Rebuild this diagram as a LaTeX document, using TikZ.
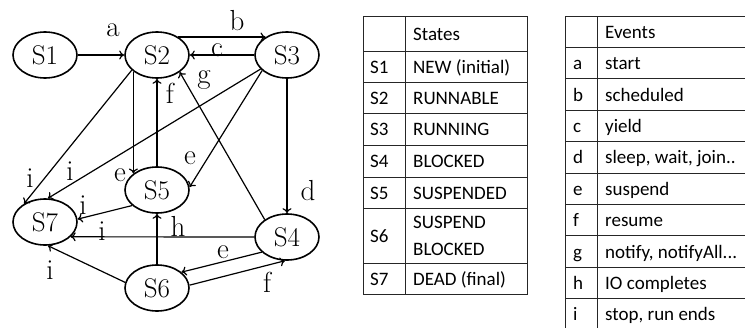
\documentclass[tikz,border=0pt]{standalone}
\usepackage{fontspec}
\newfontfamily\tabfont{Carlito}
\usetikzlibrary{arrows.meta,shapes.geometric}
\tikzset{
  state/.style={draw,line width=1.6pt,ellipse,minimum width=64pt,minimum height=46pt,inner sep=0pt,font=\fontsize{27}{29}\selectfont},
  lbl/.style={font=\fontsize{29}{31}\selectfont,inner sep=0pt},
  trans/.style={-{To[length=5pt,width=9pt]},line width=1.2pt},
  tabline/.style={line width=0.9pt,black!85},
  cell/.style={font=\tabfont\fontsize{19}{23}\selectfont,anchor=base west,inner sep=0pt},
}

\begin{document}
\begin{tikzpicture}[x=1pt,y=-1pt]
\useasboundingbox (0,0) rectangle (745,327);
\node[state] (s1) at (45,55) {S1};
\node[state] (s2) at (157,55) {S2};
\node[state] (s3) at (287,55) {S3};
\node[state] (s5) at (157,190) {S5};
\node[state] (s7) at (45,222) {S7};
\node[state] (s4) at (287,237) {S4};
\node[state] (s6) at (157,288) {S6};

\draw[trans] (s1) -- (s2);
\draw[trans] (s2.40) -- (s3.140);
\draw[trans] (s3) -- (s2);
\draw[trans] (s2.-145) -- (s5.145);
\draw[trans] (s5) -- (s2);
\draw[trans] (s3) -- (s4);
\draw[trans] (s4.142) -- (s2.-37);
\draw[trans] (s3.-148) -- (s5.5);
\draw[trans] (s2.-149) -- (s7.139);
\draw[trans] (s3.-152) -- (s7.83);
\draw[trans] (s5.-148) -- (s7.5);
\draw[trans] (s4) -- (s7.-30);
\draw[trans] (s6.170) -- (s7.-83);
\draw[trans] (s6) -- (s5);
\draw[trans] (s4.-149) -- (s6.33);
\draw[trans] (s6.5) -- (s4.-95);

\node[lbl] (la) at (113,30) {a};
\node[lbl] (lb) at (237,21) {b};
\node[lbl] (lc) at (217,50) {c};
\node[lbl] (lf1) at (170,93) {f};
\node[lbl] (lg) at (204,80) {g};
\node[lbl] (le1) at (120,175) {e};
\node[lbl] (le2) at (190,158) {e};
\node[lbl] (ld) at (308,191) {d};
\node[lbl] (li1) at (30,178) {i};
\node[lbl] (li2) at (70,171) {i};
\node[lbl] (li3) at (83,205) {i};
\node[lbl] (li4) at (102,231) {i};
\node[lbl] (li5) at (50,270) {i};
\node[lbl] (lh) at (178,226) {h};
\node[lbl] (le3) at (223,252) {e};
\node[lbl] (lf2) at (267,282) {f};

\draw[tabline] (363,16) rectangle (527,294);
\draw[tabline] (405,16) -- (405,294);
\foreach \y in {51,82,113,145,177,208,263}
  \draw[tabline] (363,\y) -- (527,\y);
\node[cell] (st0) at (413,40) {States};
\foreach \s/\t/\y in {1/NEW (initial)/73,2/RUNNABLE/104,3/RUNNING/135.5,4/BLOCKED/167.5,5/SUSPENDED/199,7/DEAD (final)/285}{
  \node[cell] (sk\s) at (370,\y) {S\s};
  \node[cell] (st\s) at (413,\y) {\t};
}
\node[cell] (sk6) at (370,242) {S6};
\node[cell] (st6a) at (413,228.5) {SUSPEND};
\node[cell] (st6b) at (413,255) {BLOCKED};

\draw[tabline] (565,16) -- (750,16);
\draw[tabline] (565,16) -- (565,335);
\draw[tabline] (597,16) -- (597,335);
\foreach \k in {1,...,9}
  \draw[tabline] (565,16+31.4*\k) -- (750,16+31.4*\k);
\node[cell] (ev0) at (605,38.2) {Events};
\foreach \k/\e/\t in {1/a/start,2/b/scheduled,3/c/yield,4/d/{sleep, wait, join..},5/e/suspend,6/f/resume,7/g/{notify, notifyAll...},8/h/IO completes,9/i/{stop, run ends}}{
  \node[cell] (ek\e) at (573,38.2+31.4*\k) {\e};
  \node[cell] (ev\e) at (605,38.2+31.4*\k) {\t};
}
\end{tikzpicture}
\end{document}
